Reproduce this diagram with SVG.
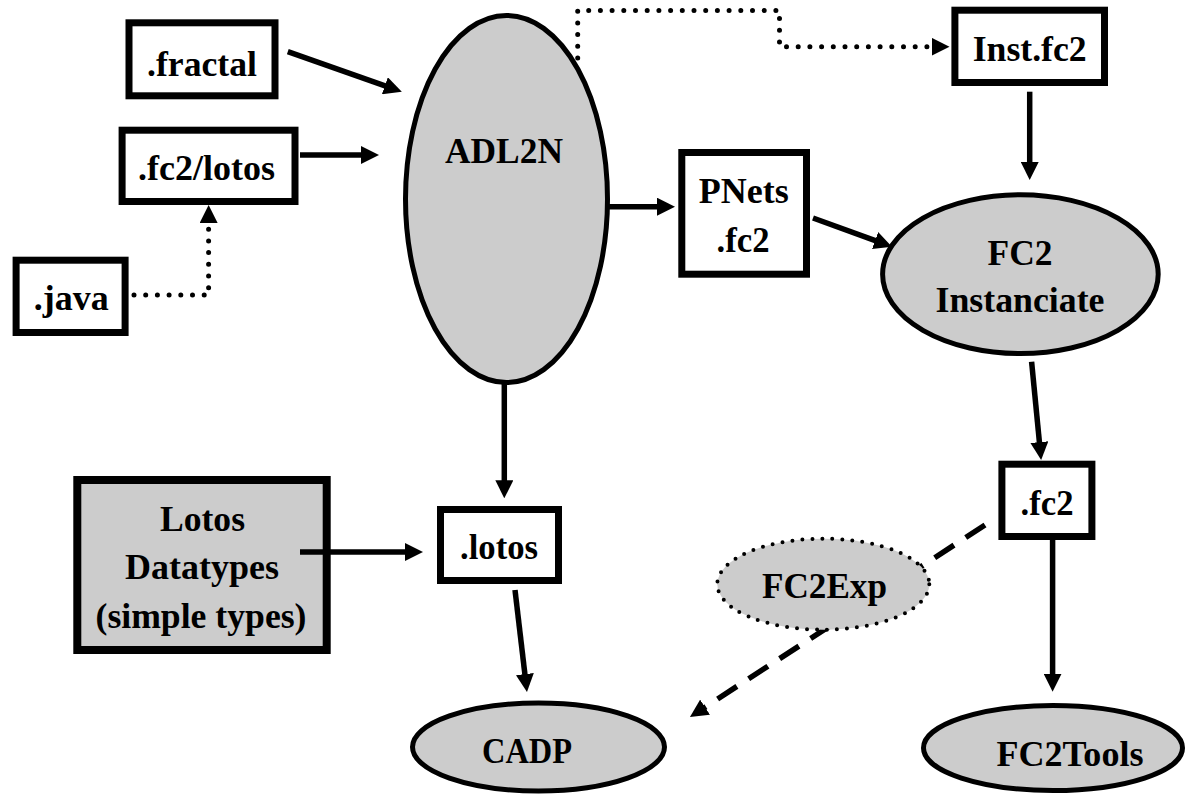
<svg xmlns="http://www.w3.org/2000/svg" width="1199" height="797" viewBox="0 0 1199 797">
<defs>
<style>
.box{fill:#ffffff;stroke:#000;stroke-width:7}
.gbox{fill:#cccccc;stroke:#000;stroke-width:8}
.ell{fill:#cccccc;stroke:#000;stroke-width:5}
.dotell{fill:#cccccc;stroke:#000;stroke-width:4;stroke-dasharray:0 10;stroke-linecap:round}
.t{font-family:'Liberation Serif','Tinos','Nimbus Roman','Noto Serif','DejaVu Serif',serif;font-weight:bold;font-size:36px;text-anchor:middle;fill:#000}
.a{fill:none;stroke:#000;stroke-width:5.5;marker-end:url(#ah)}
.d{fill:none;stroke:#000;stroke-width:5;stroke-dasharray:0 11.7;stroke-linecap:round;marker-end:url(#ah)}
.k{fill:none;stroke:#000;stroke-width:5.5;stroke-dasharray:23 14;marker-end:url(#ah)}
</style>
<marker id="ah" viewBox="0 0 18 18" refX="1" refY="9" markerWidth="18" markerHeight="18" markerUnits="userSpaceOnUse" orient="auto">
<path d="M0,0 L18,9 L0,18 z" fill="#000"/>
</marker>
</defs>
<rect width="1199" height="797" fill="#ffffff"/>

<g id="node-fractal"><rect class="box" x="129" y="22.8" width="146" height="73"/><text class="t" x="202" y="76" textLength="110" lengthAdjust="spacingAndGlyphs">.fractal</text></g>
<g id="node-fc2lotos"><rect class="box" x="122.1" y="130.2" width="172.9" height="71.3"/><text class="t" x="206.6" y="180" textLength="137" lengthAdjust="spacingAndGlyphs">.fc2/lotos</text></g>
<g id="node-java"><rect class="box" x="16.1" y="260.2" width="109" height="72.3"/><text class="t" x="71.3" y="310" textLength="75" lengthAdjust="spacingAndGlyphs">.java</text></g>
<g id="node-adl2n"><ellipse class="ell" cx="506.5" cy="199" rx="101" ry="183.5"/><text class="t" x="504" y="163" textLength="118" lengthAdjust="spacingAndGlyphs">ADL2N</text></g>
<g id="node-instfc2"><rect class="box" x="954.9" y="10.2" width="149.6" height="72.3"/><text class="t" x="1029.7" y="61" textLength="114" lengthAdjust="spacingAndGlyphs">Inst.fc2</text></g>
<g id="node-pnets"><rect class="box" x="681.8" y="152.5" width="124.7" height="121.7"/><text class="t" x="743.7" y="203.3" textLength="90" lengthAdjust="spacingAndGlyphs">PNets</text><text class="t" x="743" y="251.7" textLength="53" lengthAdjust="spacingAndGlyphs">.fc2</text></g>
<g id="node-fc2inst"><ellipse class="ell" cx="1020.4" cy="274.2" rx="137.8" ry="79.4"/><text class="t" x="1020" y="265" textLength="65" lengthAdjust="spacingAndGlyphs">FC2</text><text class="t" x="1020" y="311.7" textLength="169" lengthAdjust="spacingAndGlyphs">Instanciate</text></g>
<g id="node-fc2"><rect class="box" x="1001.9" y="464.2" width="90" height="72.3"/><text class="t" x="1047" y="515" textLength="53" lengthAdjust="spacingAndGlyphs">.fc2</text></g>
<g id="node-lotosdt"><rect class="gbox" x="77.3" y="480" width="249.4" height="170"/><text class="t" x="202.5" y="530.7" textLength="85" lengthAdjust="spacingAndGlyphs">Lotos</text><text class="t" x="202" y="579" textLength="154" lengthAdjust="spacingAndGlyphs">Datatypes</text><text class="t" x="201" y="628" textLength="211" lengthAdjust="spacingAndGlyphs">(simple types)</text></g>
<g id="node-lotos"><rect class="box" x="440.5" y="509.5" width="118" height="71"/><text class="t" x="499" y="559" textLength="78" lengthAdjust="spacingAndGlyphs">.lotos</text></g>
<g id="node-cadp"><ellipse class="ell" cx="538.5" cy="747" rx="126" ry="44"/><text class="t" x="527" y="763" textLength="90" lengthAdjust="spacingAndGlyphs">CADP</text></g>
<g id="node-fc2tools"><ellipse class="ell" cx="1053" cy="748" rx="129.5" ry="42.5"/><text class="t" x="1070" y="766" textLength="147" lengthAdjust="spacingAndGlyphs">FC2Tools</text></g>

<g id="connectors">
<line class="a" x1="287.8" y1="51.7" x2="385.8" y2="86.1"/>
<line class="a" x1="300" y1="155" x2="362" y2="155"/>
<path class="d" d="M134,295 H208.6 V222"/>
<path class="d" d="M577.7,58 V10.5 H779.5 V46.7 H932.5"/>
<line class="a" x1="609" y1="206.7" x2="658" y2="206.7"/>
<line class="a" x1="813" y1="218" x2="876" y2="240.9"/>
<line class="a" x1="1029.7" y1="91.7" x2="1029.7" y2="163"/>
<line class="a" x1="1031.6" y1="361.7" x2="1039.5" y2="443.1"/>
<line class="a" x1="504.3" y1="383" x2="504.3" y2="481.3"/>
<line class="a" x1="300" y1="552" x2="406" y2="552"/>
<line class="a" x1="515" y1="590" x2="525" y2="675.1"/>
<line class="a" x1="1052.6" y1="540" x2="1052.6" y2="674.7"/>
<line class="k" x1="985" y1="525" x2="704.2" y2="707.7"/>
</g>

<g id="node-fc2exp"><ellipse class="dotell" cx="823.3" cy="584.2" rx="106" ry="45.5"/><text class="t" x="824.5" y="598.3" textLength="125" lengthAdjust="spacingAndGlyphs">FC2Exp</text></g>
</svg>
